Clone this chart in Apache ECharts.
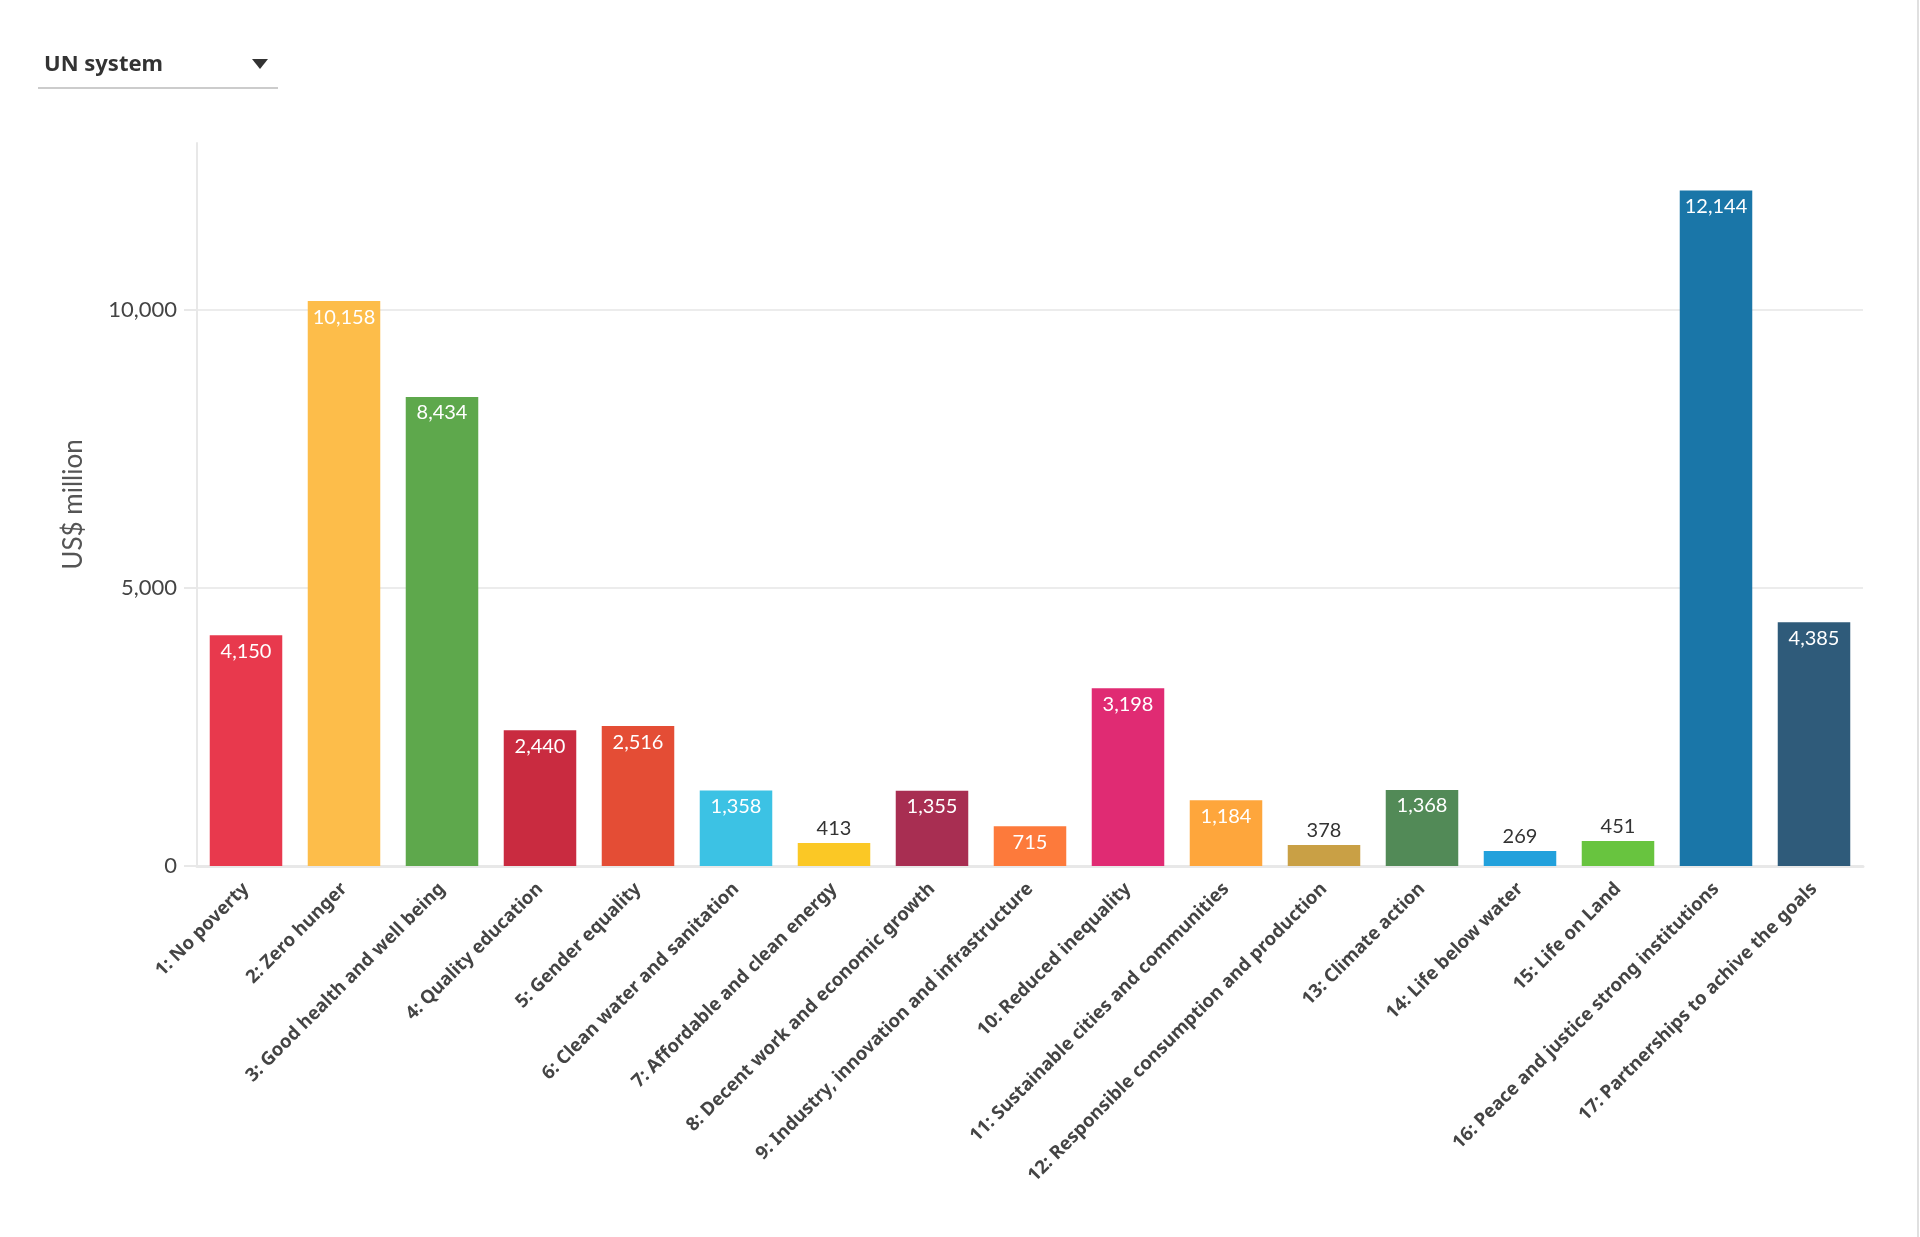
<!DOCTYPE html>
<html>
<head>
<meta charset="utf-8">
<title>UN system expenditure by SDG</title>
<script src="https://cdn.jsdelivr.net/npm/echarts@6/dist/echarts.min.js"></script>
<style>
  html, body { margin: 0; padding: 0; background: #fff; }
  #main { width: 1920px; height: 1237px; }
</style>
</head>
<body>
<div id="main"></div>
<script>
// goals on the x axis
var goals = [
  '1: No poverty', '2: Zero hunger', '3: Good health and well being',
  '4: Quality education', '5: Gender equality', '6: Clean water and sanitation',
  '7: Affordable and clean energy', '8: Decent work and economic growth',
  '9: Industry, innovation and infrastructure', '10: Reduced inequality',
  '11: Sustainable cities and communities', '12: Responsible consumption and production',
  '13: Climate action', '14: Life below water', '15: Life on Land',
  '16: Peace and justice strong institutions', '17: Partnerships to achive the goals'
];
// US$ million
var values = [4150, 10158, 8434, 2440, 2516, 1358, 413, 1355, 715, 3198, 1184, 378, 1368, 269, 451, 12144, 4385];
// SDG colours as drawn
var goalColors = [
  '#e8394d', '#fdbd4a', '#5ea84c', '#c92b40', '#e44d35', '#3cc2e4',
  '#fbc825', '#a82e52', '#fd7a3b', '#e02b73', '#fea63c', '#c9a045',
  '#528a57', '#22a1dc', '#68c43f', '#1a76a8', '#2f5b7a'
];
var yTicks = [0, 5000, 10000];

var FONT = 'Lato, "Noto Sans", sans-serif';
var BOLD_FONT = '"Noto Sans", sans-serif';
var fmt = function (v) { return Number(v).toLocaleString('en-US'); };

var barData = values.map(function (v, i) {
  var small = v < 600; // short bars get the number above
  return {
    value: v,
    itemStyle: { color: goalColors[i] },
    label: small
      ? { position: 'top', color: '#333', distance: 4 }
      : { position: 'insideTop', color: '#fff', distance: 6 }
  };
});

var myChart = echarts.init(document.getElementById('main'));
var option = {
  animation: false,
  textStyle: { fontFamily: FONT },
  grid: { left: 197, right: 57, top: 143, bottom: 371, containLabel: false },
  xAxis: {
    type: 'category',
    data: goals,
    axisLine: { lineStyle: { color: '#e8e8e8', width: 3 } },
    axisTick: { alignWithLabel: true, length: 12, lineStyle: { color: '#e8e8e8', width: 2 } },
    axisLabel: {
      interval: 0, rotate: 45, margin: 20,
      fontSize: 18.5, fontWeight: 'bold', color: '#444', fontFamily: BOLD_FONT
    }
  },
  yAxis: {
    type: 'value',
    min: 0, max: 13000, interval: 5000,
    name: 'US$ million',
    nameLocation: 'middle',
    nameGap: 110,
    nameTextStyle: { fontSize: 26, color: '#555', fontFamily: FONT },
    axisLine: { show: true, lineStyle: { color: '#e8e8e8', width: 2 } },
    axisTick: { show: true, length: 13, customValues: yTicks, lineStyle: { color: '#e8e8e8', width: 2 } },
    axisLabel: {
      customValues: yTicks, margin: 20, fontSize: 22, color: '#444', fontFamily: FONT,
      formatter: fmt
    },
    splitLine: { lineStyle: { color: ['#ececec', '#ececec', '#ececec', 'rgba(0,0,0,0)'], width: 2 } }
  },
  series: [{
    type: 'bar',
    data: barData,
    barWidth: '74%',
    label: {
      show: true, fontSize: 20, fontFamily: FONT,
      formatter: function (p) { return fmt(p.value); }
    }
  }],
  graphic: [
    // dropdown look-alike
    { type: 'text', left: 44, top: 54, style: { text: 'UN system', font: 'bold 22px ' + BOLD_FONT, fill: '#333' } },
    { type: 'polygon', shape: { points: [[252, 59], [268, 59], [260, 69]] }, style: { fill: '#333' } },
    { type: 'line', shape: { x1: 38, y1: 88, x2: 278, y2: 88 }, style: { stroke: '#cccccc', lineWidth: 2 } },
    // page edge
    { type: 'line', shape: { x1: 1918, y1: 0, x2: 1918, y2: 1237 }, style: { stroke: '#e0e0e0', lineWidth: 2 } }
  ]
};
myChart.setOption(option);
</script>
</body>
</html>
